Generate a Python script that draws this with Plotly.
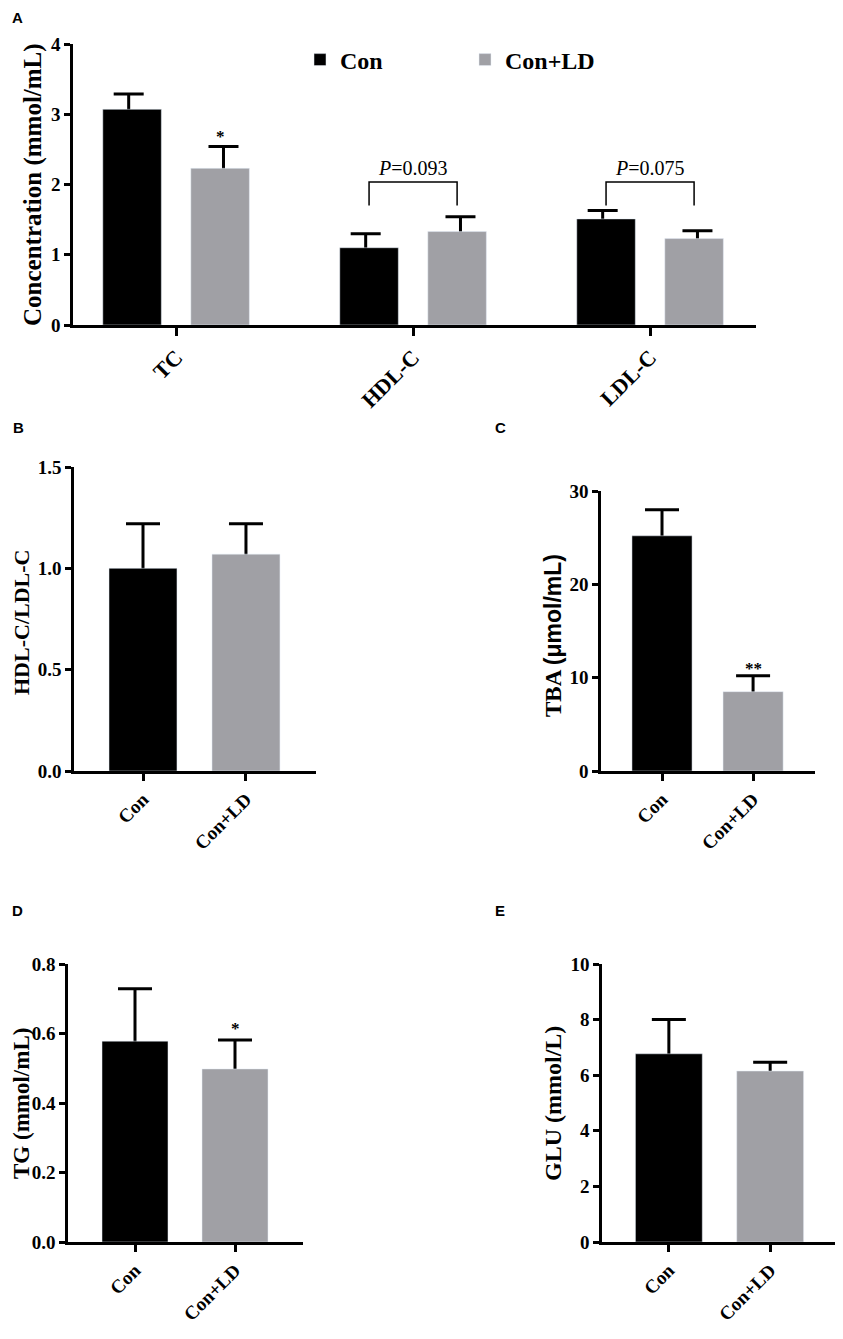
import plotly.graph_objects as go

# Panel A data
lipids = ["TC", "HDL-C", "LDL-C"]
con_vals = [3.07, 1.10, 1.51]
con_err = [0.22, 0.20, 0.12]
ld_vals = [2.23, 1.33, 1.23]
ld_err = [0.31, 0.21, 0.11]

# two-group panels
groups = ["Con", "Con+LD"]
ratio_vals = [1.00, 1.07]
ratio_err = [0.22, 0.15]
tba_vals = [25.2, 8.5]
tba_err = [2.8, 1.7]
tg_vals = [0.578, 0.498]
tg_err = [0.151, 0.083]
glu_vals = [6.77, 6.15]
glu_err = [1.23, 0.32]

p_labels = ["", "<i>P</i>=0.093", "<i>P</i>=0.075"]

# the page body keeps an 8px margin, so the figure is 16px smaller than the window
PAGE_W, PAGE_H = 843, 1339
OFF = 8
W, H = PAGE_W - 2 * OFF, PAGE_H - 2 * OFF
BLACK = "#000000"
GRAY = "#A0A0A5"
SERIF = "Liberation Serif"
SANS = "Liberation Sans"


def fx(p):
    return min(max((p - OFF) / W, 0), 1)


def fy(p):
    return min(max(1 - (p - OFF) / H, 0), 1)


def px_x(a, b):
    return [fx(a), fx(b)]


def px_y(top, bottom):
    return [fy(bottom), fy(top)]


def err_trace(x, y, e, xa, ya, cap):
    # symmetric bars drawn under the bars; the bar hides the lower half
    return go.Scatter(x=x, y=y, mode="markers", marker=dict(size=1, color="rgba(0,0,0,0)"),
                      error_y=dict(type="data", array=e, color=BLACK, thickness=3, width=cap),
                      showlegend=False, hoverinfo="skip", xaxis=xa, yaxis=ya)


fig = go.Figure()

# panel A: error bars on y, bars on overlaying y6
fig.add_trace(err_trace(lipids, con_vals, con_err, "x", "y", 15))
fig.add_trace(err_trace(lipids, ld_vals, ld_err, "x", "y", 15))
fig.add_trace(go.Bar(x=lipids, y=con_vals, name="Con", marker_color=BLACK,
                     xaxis="x", yaxis="y6"))
fig.add_trace(go.Bar(x=lipids, y=ld_vals, name="Con+LD", marker_color=GRAY,
                     xaxis="x", yaxis="y6"))

small = [(ratio_vals, ratio_err, "2"), (tba_vals, tba_err, "3"),
         (tg_vals, tg_err, "4"), (glu_vals, glu_err, "5")]
for k, (vals, errs, n) in enumerate(small):
    fig.add_trace(err_trace(groups, vals, errs, "x" + n, "y" + n, 17))
    fig.add_trace(go.Bar(x=groups, y=vals, marker_color=[BLACK, GRAY], width=0.66,
                         showlegend=False, xaxis="x" + n, yaxis="y" + str(7 + k)))

axis_common = dict(showline=True, linecolor=BLACK, linewidth=2.5, showgrid=False,
                   zeroline=False, ticks="outside", tickcolor=BLACK, tickwidth=2.5,
                   fixedrange=True, automargin=False)
xfont = dict(family=SERIF, size=19, color=BLACK, weight="bold")
yfont = dict(family=SERIF, size=19, color=BLACK, weight="bold")

layout = dict(
    width=W, height=H, margin=dict(l=0, r=0, t=0, b=0, autoexpand=False),
    paper_bgcolor="white", plot_bgcolor="white",
    font=dict(family=SERIF, color=BLACK, weight="bold"),
    barmode="group", bargap=0.257, bargroupgap=0.335, scattermode="group",
    legend=dict(orientation="h", x=fx(300), y=fy(60), xanchor="left", yanchor="middle",
                font=dict(family=SERIF, size=24, color=BLACK, weight="bold"),
                itemwidth=30, entrywidth=120, bgcolor="rgba(0,0,0,0)"),
)

# panel A axes
layout["xaxis"] = dict(axis_common, domain=px_x(73, 756), range=[-0.435, 2.447],
                       ticklen=8, tickangle=-45, tickfont=dict(xfont, size=22), anchor="y")
layout["yaxis"] = dict(axis_common, domain=px_y(44, 325), range=[0, 4], dtick=1,
                       ticklen=6, tickfont=yfont, anchor="x")
layout["yaxis6"] = dict(overlaying="y", range=[0, 4], visible=False, fixedrange=True)

boxes = {
    "2": (px_x(74, 316), px_y(467, 771), [-0.67, 1.68], [0, 1.5], 0.5, ".1f"),
    "3": (px_x(601, 815), px_y(491, 771), [-0.67, 1.68], [0, 30], 10, "d"),
    "4": (px_x(68, 303), px_y(964, 1242), [-0.67, 1.68], [0, 0.8], 0.2, ".1f"),
    "5": (px_x(602, 835), px_y(964, 1242), [-0.66, 1.64], [0, 10], 2, "d"),
}
for k, (n, (dx, dy, xr, yr, dt, fmt)) in enumerate(boxes.items()):
    layout["xaxis" + n] = dict(axis_common, domain=dx, range=xr, ticklen=7,
                               tickangle=-45, tickfont=xfont, anchor="y" + n)
    layout["yaxis" + n] = dict(axis_common, domain=dy, range=yr, dtick=dt, tickformat=fmt,
                               ticklen=6, tickfont=yfont, anchor="x" + n)
    layout["yaxis" + str(7 + k)] = dict(overlaying="y" + n, range=yr, visible=False,
                                        fixedrange=True)

fig.update_layout(**layout)

# brackets and P values in panel A
half = (1 - 0.257) / 4
for i, lab in enumerate(p_labels):
    if not lab:
        continue
    x0, x1 = i - half, i + half
    fig.add_shape(type="path", xref="x", yref="y",
                  path=f"M {x0},1.70 L {x0},2.035 L {x1},2.035 L {x1},1.70",
                  line=dict(color=BLACK, width=1.5))
    fig.add_annotation(x=i, y=2.24, xref="x", yref="y", text=lab, showarrow=False,
                       font=dict(family=SERIF, size=20, color=BLACK, weight="normal"))

# significance marks
fig.add_annotation(x=half, y=2.68, xref="x", yref="y", text="*", showarrow=False,
                   font=dict(family=SERIF, size=17, color=BLACK))
fig.add_annotation(x=1, y=11.0, xref="x3", yref="y3", text="**", showarrow=False,
                   font=dict(family=SERIF, size=17, color=BLACK))
fig.add_annotation(x=1, y=0.615, xref="x4", yref="y4", text="*", showarrow=False,
                   font=dict(family=SERIF, size=17, color=BLACK))

# y-axis titles
titles = [
    ("Concentration (mmol/mL)", 33, 185, 25),
    ("HDL-C/LDL-C", 21, 623, 22),
    (f"TBA <span style='font-family:{SANS}'>(μmol/mL)</span>", 553, 636, 23),
    ("TG (mmol/mL)", 21, 1104, 23),
    ("GLU (mmol/L)", 553, 1104, 24),
]
for text, tx, ty, size in titles:
    fig.add_annotation(x=fx(tx), y=fy(ty), xref="paper", yref="paper", text=text,
                       textangle=-90, showarrow=False, xanchor="center", yanchor="middle",
                       font=dict(family=SERIF, size=size, color=BLACK, weight="bold"))

# panel letters
for letter, lx, ly in [("A", 17, 18), ("B", 18, 427), ("C", 500, 427),
                       ("D", 17, 910), ("E", 500, 910)]:
    fig.add_annotation(x=fx(lx), y=fy(ly), xref="paper", yref="paper", text=letter,
                       showarrow=False, xanchor="center", yanchor="middle",
                       font=dict(family=SANS, size=15, color=BLACK, weight="bold"))

fig.write_html("out.html")
